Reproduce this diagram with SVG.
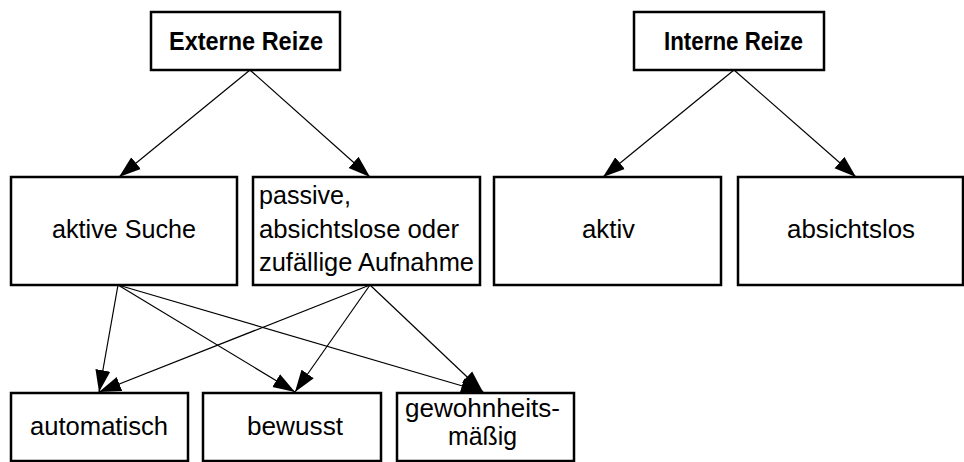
<svg xmlns="http://www.w3.org/2000/svg" width="964" height="462" viewBox="0 0 964 462">
  <style>
    .box { fill: #ffffff; stroke: #000000; stroke-width: 2.5; }
    .edge { fill: none; stroke: #000000; stroke-width: 1.2; marker-end: url(#arrow); }
    text { font-family: "Liberation Sans", Arial, sans-serif; font-size: 26.5px; fill: #000000; }
    .title { font-weight: bold; font-size: 25.5px; text-anchor: middle; }
    .mid { text-anchor: middle; }
  </style>
  <defs>
    <marker id="arrow" markerUnits="userSpaceOnUse" markerWidth="22" markerHeight="16" refX="22" refY="8" orient="auto">
      <path d="M0,0.5 L22,8 L0,15.5 z" fill="#000000"/>
    </marker>
  </defs>

  <g id="connectors">
    <line class="edge" x1="250" y1="70" x2="119" y2="177"/>
    <line class="edge" x1="250" y1="70" x2="370" y2="177"/>
    <line class="edge" x1="734" y1="70" x2="603" y2="177"/>
    <line class="edge" x1="734" y1="70" x2="856" y2="177"/>
    <line class="edge" x1="118" y1="285" x2="99" y2="392"/>
    <line class="edge" x1="118" y1="285" x2="295" y2="392"/>
    <line class="edge" x1="118" y1="285" x2="483" y2="392"/>
    <line class="edge" x1="370" y1="285" x2="99" y2="392"/>
    <line class="edge" x1="370" y1="285" x2="295" y2="392"/>
    <line class="edge" x1="370" y1="285" x2="483" y2="392"/>
  </g>

  <g id="externe-reize">
    <rect class="box" x="151" y="12" width="189" height="58"/>
    <text class="title" x="246" y="50" textLength="154" lengthAdjust="spacingAndGlyphs">Externe Reize</text>
  </g>
  <g id="interne-reize">
    <rect class="box" x="634" y="12" width="190" height="58"/>
    <text class="title" x="733.5" y="50" textLength="139" lengthAdjust="spacingAndGlyphs">Interne Reize</text>
  </g>

  <g id="aktive-suche">
    <rect class="box" x="11" y="177" width="226" height="108"/>
    <text class="mid" x="124" y="238" textLength="144" lengthAdjust="spacingAndGlyphs">aktive Suche</text>
  </g>
  <g id="passive-aufnahme">
    <rect class="box" x="253" y="177" width="227" height="108"/>
    <text x="259" y="204" textLength="92" lengthAdjust="spacingAndGlyphs">passive,</text>
    <text x="259" y="237.5" textLength="200" lengthAdjust="spacingAndGlyphs">absichtslose oder</text>
    <text x="259" y="271" textLength="215" lengthAdjust="spacingAndGlyphs">zufällige Aufnahme</text>
  </g>
  <g id="aktiv">
    <rect class="box" x="494" y="177" width="227" height="108"/>
    <text class="mid" x="608.5" y="238" textLength="53" lengthAdjust="spacingAndGlyphs">aktiv</text>
  </g>
  <g id="absichtslos">
    <rect class="box" x="738" y="177" width="225" height="108"/>
    <text class="mid" x="851" y="238" textLength="128" lengthAdjust="spacingAndGlyphs">absichtslos</text>
  </g>

  <g id="automatisch">
    <rect class="box" x="11" y="393" width="177" height="68"/>
    <text class="mid" x="99" y="435" textLength="138" lengthAdjust="spacingAndGlyphs">automatisch</text>
  </g>
  <g id="bewusst">
    <rect class="box" x="203" y="393" width="178" height="68"/>
    <text class="mid" x="295" y="435" textLength="96" lengthAdjust="spacingAndGlyphs">bewusst</text>
  </g>
  <g id="gewohnheitsmaessig">
    <rect class="box" x="397" y="393" width="177" height="68"/>
    <text class="mid" x="482.5" y="417" textLength="155" lengthAdjust="spacingAndGlyphs">gewohnheits-</text>
    <text class="mid" x="482.5" y="445" textLength="69" lengthAdjust="spacingAndGlyphs">mäßig</text>
  </g>
</svg>
